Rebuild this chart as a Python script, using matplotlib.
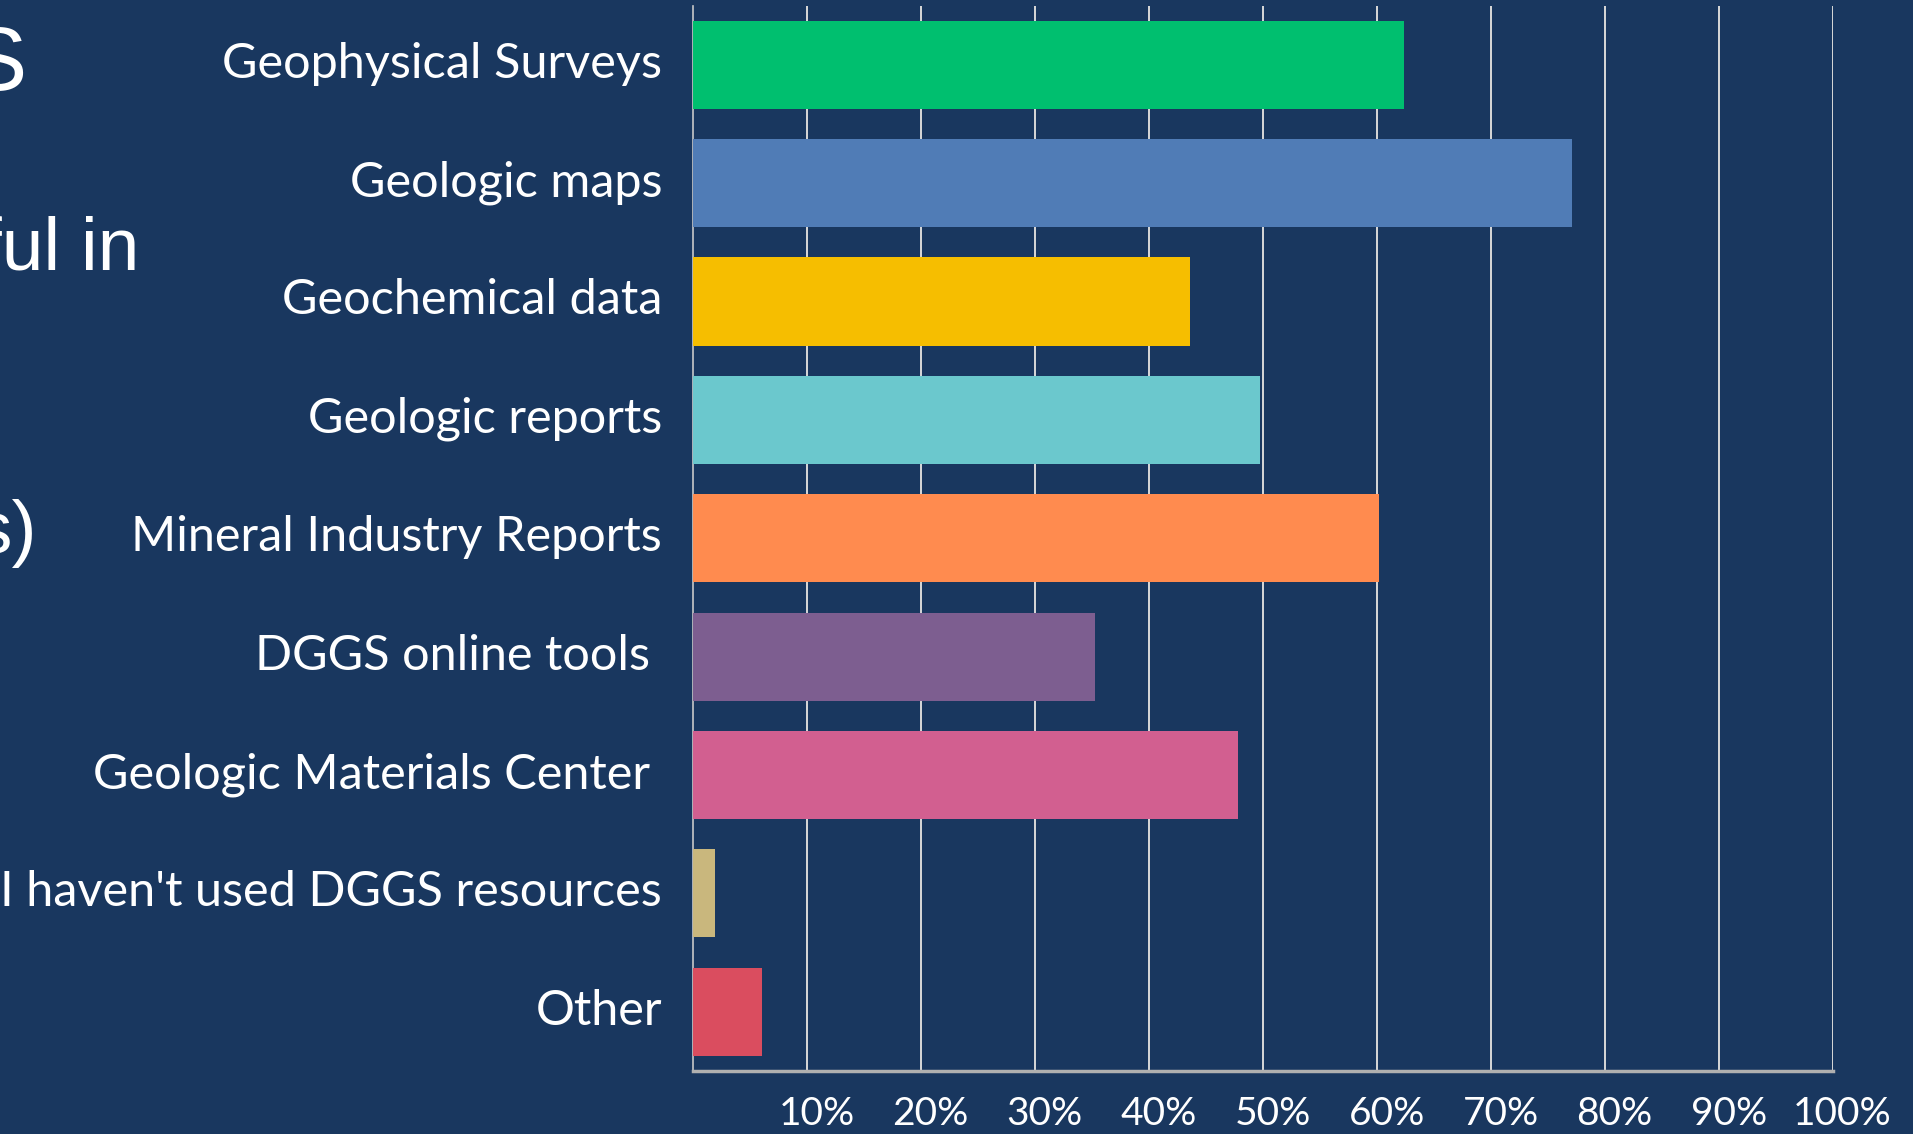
import matplotlib.pyplot as plt
import matplotlib.transforms as mtransforms

# survey answers, top to bottom
categories = ["Geophysical Surveys", "Geologic maps", "Geochemical data",
              "Geologic reports", "Mineral Industry Reports", "DGGS online tools ",
              "Geologic Materials Center ", "I haven't used DGGS resources", "Other"]
percent = [62.4, 77.1, 43.6, 49.8, 60.2, 35.3, 47.8, 2.0, 6.1]
colors = ["#00BF6F", "#507CB6", "#F6BE00", "#6BC8CD", "#FF8B4F",
          "#7D5E90", "#D25F90", "#C9B77D", "#DA4D5F"]
xticks = [10, 20, 30, 40, 50, 60, 70, 80, 90, 100]
xtick_labels = ["10%", "20%", "30%", "40%", "50%", "60%", "70%", "80%", "90%", "100%"]

bg = "#19375F"
label_font = ["Lato", "DejaVu Sans"]

fig = plt.figure(figsize=(19.13, 11.34), dpi=100, facecolor=bg)
ax = fig.add_axes([0.3621, 0.0556, 0.5959, 0.9395])
ax.set_facecolor(bg)

ypos = list(range(len(categories)))
ax.barh(ypos, percent, height=0.745, color=colors, zorder=3)

ax.set_xlim(0, 100)
ax.set_ylim(len(categories) - 0.5, -0.5)

# vertical gridlines
ax.set_xticks(xticks)
ax.xaxis.grid(True, color="#D9D9D9", linewidth=1.4, zorder=1)
ax.set_axisbelow(True)

ax.set_yticks(ypos)
ax.set_yticklabels(categories, fontsize=35, color="white", family=label_font)
ax.tick_params(axis="y", length=0, pad=22)
up = mtransforms.ScaledTranslation(0, 5 / 100, fig.dpi_scale_trans)
for lab in ax.get_yticklabels():
    lab.set_transform(lab.get_transform() + up)

ax.set_xticklabels(xtick_labels, fontsize=28, color="white", family=label_font)
ax.tick_params(axis="x", length=0, pad=18)
shift = mtransforms.ScaledTranslation(10 / 100, 0, fig.dpi_scale_trans)
for lab in ax.get_xticklabels():
    lab.set_transform(lab.get_transform() + shift)

for s in ["top", "right"]:
    ax.spines[s].set_visible(False)
ax.spines["left"].set_color("#C8C8C8")
ax.spines["left"].set_linewidth(1.2)
ax.spines["bottom"].set_color("#B0B0B0")
ax.spines["bottom"].set_linewidth(2.5)

# clipped slide title on the left edge
title_font = ["Liberation Sans", "DejaVu Sans"]
fig.text(27 / 1913, 1 - 90 / 1134, "S", fontsize=65, color="white",
         ha="right", va="baseline", family=title_font)
fig.text(139 / 1913, 1 - 269 / 1134, "ful in", fontsize=54, color="white",
         ha="right", va="baseline", family=title_font)
fig.text(37 / 1913, 1 - 553 / 1134, "s)", fontsize=54, color="white",
         ha="right", va="baseline", family=title_font)

plt.savefig("out.png", dpi=100, facecolor=bg)
